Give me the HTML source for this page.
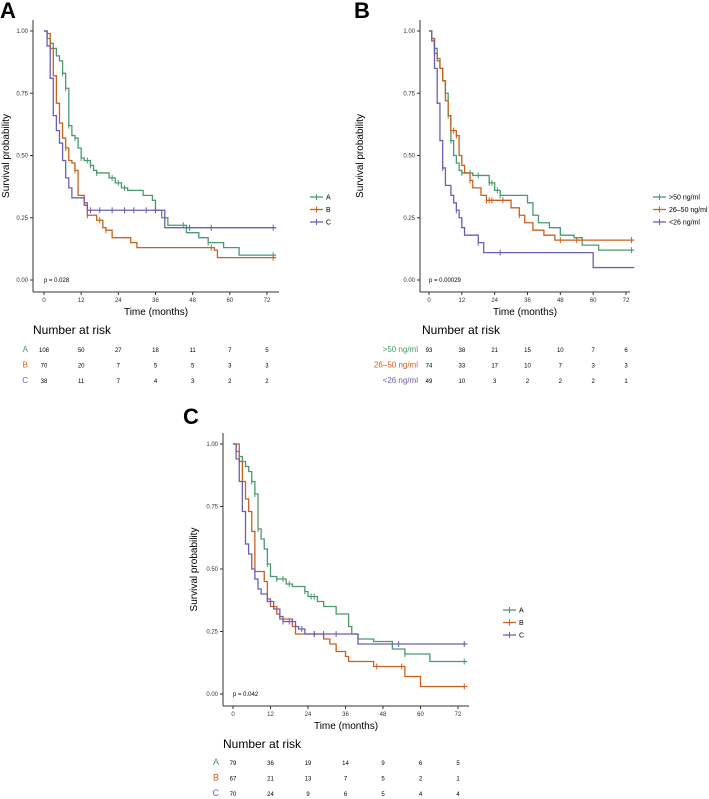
<!DOCTYPE html>
<html><head><meta charset="utf-8"><style>
body{margin:0;background:#fff;}
svg{display:block;font-family:"Liberation Sans",sans-serif;}
</style></head><body>
<svg id="c" width="709" height="799" viewBox="0 0 709 799" xmlns="http://www.w3.org/2000/svg"></svg>
<script>
const NS='http://www.w3.org/2000/svg';
const COL=['#4a9a6e','#c9601c','#6c5fb0'];
const ticksX=[0,12,24,36,48,60,72];
const ticksY=[0,0.25,0.5,0.75,1];
const tickYLabels=['0.00','0.25','0.50','0.75','1.00'];

// Panel A data
const aNames=['A','B','C'];
const aA=[[0,1],[1,0.97],[2,0.95],[3,0.93],[4,0.9],[5,0.88],[6,0.83],[7,0.77],[8,0.62],[9,0.58],[10,0.57],[11,0.53],[12,0.49],[13,0.48],[15,0.46],[16,0.44],[17,0.43],[21,0.41],[23,0.39],[25,0.37],[27,0.36],[32,0.34],[35,0.32],[36,0.28],[38,0.25],[40,0.22],[46,0.19],[50,0.17],[53,0.15],[58,0.13],[63,0.1]];
const aB=[[0,1],[1,0.99],[2,0.93],[3,0.82],[4,0.71],[5,0.63],[6,0.57],[7,0.53],[8,0.48],[9,0.47],[10,0.44],[11,0.34],[13,0.31],[14,0.26],[17,0.24],[19,0.21],[20,0.2],[22,0.17],[28,0.15],[30,0.13],[55,0.12],[56,0.09]];
const aC=[[0,1],[1,0.94],[2,0.81],[3,0.66],[4,0.6],[5,0.55],[6,0.48],[7,0.41],[8,0.37],[9,0.33],[13,0.3],[14,0.28],[39,0.21]];
const aCens=[[6,7,8,10,12,14,15,17,22,24,26,45,53,74],[7,10,14,18,20,54,74],[15,18,22,26,29,33,36,47,54,74]];
const aRisk=[[108,50,27,18,11,7,5],[70,20,7,5,5,3,3],[38,11,7,4,3,2,2]];

// Panel B data
const bNames=['>50 ng/ml','26\u201350 ng/ml','<26 ng/ml'];
const bA=[[0,1],[1,0.97],[2,0.93],[3,0.89],[4,0.85],[5,0.8],[6,0.75],[7,0.66],[8,0.56],[9,0.5],[10,0.47],[11,0.44],[12,0.43],[16,0.42],[22,0.39],[24,0.36],[26,0.34],[36,0.31],[38,0.26],[40,0.23],[44,0.21],[48,0.18],[53,0.17],[56,0.14],[62,0.12]];
const bB=[[0,1],[1,0.97],[2,0.91],[3,0.88],[4,0.85],[5,0.8],[6,0.72],[7,0.66],[8,0.6],[10,0.58],[11,0.5],[12,0.46],[13,0.43],[15,0.4],[16,0.37],[19,0.34],[21,0.32],[30,0.29],[33,0.26],[35,0.23],[38,0.2],[42,0.18],[46,0.16]];
const bC=[[0,1],[1,0.96],[2,0.85],[3,0.71],[4,0.56],[5,0.45],[6,0.38],[8,0.34],[9,0.31],[10,0.28],[11,0.25],[12,0.21],[13,0.18],[18,0.15],[20,0.11],[60,0.05]];
const bCens=[[6,7,8,12,15,18,22,23,25,26,74],[8,9,10,15,21,22,23,27,33,48,54,74],[5,10,18,26]];
const bRisk=[[93,38,21,15,10,7,6],[74,33,17,10,7,3,3],[49,10,3,2,2,2,1]];

// Panel C data
const cNames=['A','B','C'];
const cA=[[0,1],[1,0.97],[2,0.95],[3,0.93],[4,0.91],[5,0.89],[6,0.85],[7,0.8],[8,0.66],[9,0.62],[10,0.58],[11,0.52],[12,0.47],[14,0.46],[17,0.44],[19,0.43],[23,0.41],[24,0.39],[27,0.37],[29,0.35],[33,0.32],[37,0.27],[38,0.24],[40,0.22],[45,0.21],[51,0.18],[55,0.16],[63,0.13]];
const cB=[[0,1],[2,0.93],[3,0.85],[4,0.78],[5,0.73],[6,0.65],[7,0.49],[10,0.45],[11,0.38],[12,0.35],[14,0.32],[15,0.3],[19,0.27],[20,0.24],[29,0.22],[31,0.2],[33,0.17],[36,0.15],[37,0.13],[45,0.11],[55,0.07],[60,0.03]];
const cC=[[0,1],[1,0.94],[2,0.85],[3,0.73],[4,0.6],[5,0.56],[6,0.5],[7,0.46],[8,0.42],[9,0.4],[11,0.37],[13,0.34],[15,0.31],[16,0.29],[20,0.27],[21,0.26],[23,0.24],[40,0.2]];
const cCens=[[6,7,8,11,14,16,18,23,25,26,55,74],[26,46,54,74],[12,15,16,18,19,22,26,29,33,53,74]];
const cRisk=[[79,36,19,14,9,6,5],[67,21,13,7,5,2,1],[70,24,9,6,5,4,4]];

const svg=document.getElementById('c');
function el(tag,attrs,parent,txt){const e=document.createElementNS(NS,tag);for(const k in attrs)e.setAttribute(k,attrs[k]);if(txt!==undefined)e.textContent=txt;(parent||svg).appendChild(e);return e;}

function panel(cfg,letter,names,curves,cens,risk){
  const g=el('g',{});
  
  
  const X=t=>cfg.x0+t*cfg.sx;
  const Y=s=>cfg.y0-s*cfg.h;
  const lt=el('text',{x:cfg.lx,y:cfg.ly,'font-size':22,'font-weight':'bold',fill:'#000'},g,letter);
  
  
  const ya=el('line',{x1:cfg.ax,y1:cfg.top,x2:cfg.ax,y2:cfg.axy,stroke:'#333','stroke-width':1},g);
  
  
  const xa=el('line',{x1:cfg.ax,y1:cfg.axy,x2:cfg.right,y2:cfg.axy,stroke:'#333','stroke-width':1},g);
  
  
  ticksY.forEach((v,i)=>{
    el('line',{x1:cfg.ax-3,y1:Y(v),x2:cfg.ax,y2:Y(v),stroke:'#333'},g);
    const t=el('text',{x:cfg.ax-5,y:Y(v)+2,'font-size':6,'text-anchor':'end',fill:'#333'},g,tickYLabels[i]);
    
    
  });
  ticksX.forEach(v=>{
    el('line',{x1:X(v),y1:cfg.axy,x2:X(v),y2:cfg.axy+3,stroke:'#333'},g);
    const t=el('text',{x:X(v),y:cfg.axy+10,'font-size':6,'text-anchor':'middle',fill:'#333'},g,String(v));
    
    
  });
  const yt=el('text',{x:0,y:0,'font-size':10,'text-anchor':'middle',fill:'#000',transform:`translate(${cfg.ytx},${(cfg.top+cfg.axy)/2}) rotate(-90)`},g,'Survival probability');
  
  
  const xt=el('text',{x:(cfg.ax+cfg.right)/2,y:cfg.axy+23,'font-size':10,'text-anchor':'middle',fill:'#000'},g,'Time (months)');
  
  
  const pv=el('text',{x:X(0),y:Y(0)+2,'font-size':6,fill:'#000'},g,cfg.p);
  
  
  curves.forEach((c,i)=>{
    let d='M'+X(c[0][0])+' '+Y(c[0][1]);
    for(let k=1;k<c.length;k++){d+=' H'+X(c[k][0])+' V'+Y(c[k][1]);}
    d+=' H'+X(75);
    const p=el('path',{d:d,fill:'none',stroke:COL[i],'stroke-width':1.3},g);
    
    
    cens[i].forEach(t=>{
      let s=c[0][1];for(const q of c){if(q[0]<=t)s=q[1];}
      const m=el('line',{x1:X(t),y1:Y(s)-3,x2:X(t),y2:Y(s)+3,stroke:COL[i],'stroke-width':1},g);
      
      
    });
    const ly=cfg.legY+i*12.5;
    const lg=el('g',{},g);
    
    
    el('line',{x1:cfg.legX,y1:ly,x2:cfg.legX+13,y2:ly,stroke:COL[i],'stroke-width':1.3},lg);
    el('line',{x1:cfg.legX+6.5,y1:ly-3,x2:cfg.legX+6.5,y2:ly+3,stroke:COL[i],'stroke-width':1},lg);
    el('text',{x:cfg.legX+16,y:ly+2.5,'font-size':7,fill:'#000'},lg,names[i]);
  });
  const nr=el('text',{x:cfg.nrx,y:cfg.nry,'font-size':12,fill:'#000'},g,'Number at risk');
  
  
  risk.forEach((row,i)=>{
    const ry=cfg.ry+i*cfg.rdy;
    const lab=el('text',{x:cfg.rlx,y:ry,'font-size':cfg.rlfs,'text-anchor':'end',fill:COL[i]},g,names[i]);
    
    
    row.forEach((v,k)=>{
      const t=el('text',{x:X(ticksX[k]),y:ry,'font-size':6,'text-anchor':'middle',fill:'#000'},g,String(v));
      
      
    });
  });
}

panel({x0:44,sx:3.097,y0:280,h:249,ax:33,top:20,axy:292,right:279,lx:0,ly:18,ytx:9,p:'p = 0.028',legX:310,legY:197,nrx:33,nry:334,ry:352,rdy:15.5,rlx:28,rlfs:8},'A',aNames,[aA,aB,aC],aCens,aRisk);
panel({x0:429,sx:2.736,y0:280,h:249,ax:420,top:20,axy:292,right:630,lx:354,ly:18,ytx:363,p:'p = 0.00029',legX:653,legY:197,nrx:422,nry:334,ry:352,rdy:15.5,rlx:418,rlfs:8},'B',bNames,[bA,bB,bC],bCens,bRisk);
panel({x0:233,sx:3.125,y0:694,h:250,ax:223,top:433,axy:706,right:469,lx:183,ly:424,ytx:197,p:'p = 0.042',legX:503,legY:610,nrx:223,nry:748,ry:765,rdy:15.5,rlx:219,rlfs:9},'C',cNames,[cA,cB,cC],cCens,cRisk);
</script>
</body></html>
